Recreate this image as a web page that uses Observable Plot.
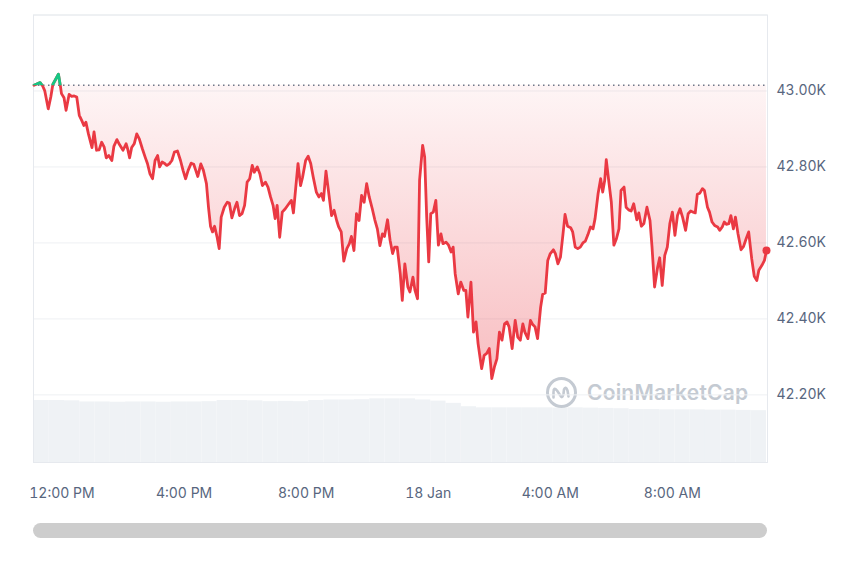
<!DOCTYPE html>
<html><head><meta charset="utf-8">
<script src="https://cdn.jsdelivr.net/npm/d3@7"></script>
<script src="https://cdn.jsdelivr.net/npm/@observablehq/plot@0.6"></script>
<style>
html,body{margin:0;padding:0;background:#fff;}
#wrap{position:relative;width:860px;height:573px;overflow:hidden;font-family:Inter,"Noto Sans",sans-serif;}
#wrap > *{position:absolute;left:0;top:0;}
</style></head><body><div id="wrap"></div>
<script>
// [minutes since 12:00 PM 17 Jan, price USD]
const priceSeries = [
[-55,43015],[-43,43022],[-38,43013],[-34,43001],[-27,42953],[-22,42984],[-18,43017],[-7,43044],[-3,43012],[-1,42993],
[4,42982],[8,42949],[14,42991],[19,42986],[24,42987],[29,42984],[34,42936],[39,42922],[43,42909],[47,42918],
[52,42887],[59,42851],[63,42892],[68,42844],[73,42845],[78,42865],[83,42852],[87,42824],[92,42830],[98,42817],
[102,42854],[108,42872],[113,42859],[120,42844],[126,42861],[129,42848],[133,42824],[137,42851],[142,42861],[147,42887],
[152,42874],[158,42848],[164,42824],[168,42809],[173,42782],[178,42769],[183,42817],[188,42830],
[192,42800],[197,42813],[201,42810],[206,42804],[211,42808],[216,42817],[221,42839],[227,42842],[233,42817],[238,42791],
[243,42769],[248,42791],[254,42810],[259,42807],[263,42791],[267,42775],[273,42808],[278,42791],[284,42756],[288,42694],
[292,42644],[296,42629],[300,42644],[305,42615],[309,42585],[313,42668],[319,42694],[325,42707],[329,42705],[334,42666],
[340,42693],[344,42707],[349,42672],[354,42677],[359,42699],[364,42760],[369,42769],[374,42804],[378,42786],[384,42800],
[389,42782],[394,42751],[400,42760],[405,42747],[410,42721],[415,42699],[419,42664],[423,42699],[428,42615],
[433,42681],[439,42690],[446,42703],[451,42712],[455,42679],[459,42738],[464,42809],[469,42751],[473,42773],[479,42817],
[484,42828],[489,42809],[494,42773],[500,42734],[505,42721],[510,42730],[514,42712],[519,42789],[525,42725],[530,42672],
[535,42686],[540,42659],[544,42642],[549,42629],[554,42552],[560,42585],[565,42598],[569,42617],[574,42580],[579,42677],
[584,42659],[589,42725],[594,42707],[599,42756],[604,42721],[610,42690],[615,42661],[620,42637],[625,42593],[630,42624],
[634,42617],[640,42661],[645,42607],[650,42572],[654,42589],[659,42589],[665,42519],[669,42449],[674,42545],[680,42484],
[684,42471],[690,42510],[694,42475],[699,42453],
[703,42765],[709,42857],[713,42826],[717,42668],[721,42550],[725,42677],[730,42681],[735,42712],[740,42594],[745,42624],
[749,42598],[755,42602],[760,42594],[765,42576],[769,42589],[773,42519],[779,42466],[784,42497],[790,42475],[794,42475],
[798,42405],[804,42497],[809,42365],[814,42392],[818,42335],[825,42269],[830,42304],[835,42309],[840,42322],[845,42243],
[850,42273],[855,42295],[860,42365],[865,42344],[870,42387],[875,42392],[879,42379],[885,42322],[891,42396],[896,42352],
[901,42344],[906,42387],[910,42365],[916,42348],[921,42396],[925,42386],[930,42379],[935,42348],[941,42431],
[945,42465],[950,42468],[955,42554],[960,42572],[966,42582],[970,42572],[975,42545],[980,42563],[985,42624],[989,42675],
[994,42644],[1000,42640],[1004,42629],[1009,42589],[1014,42585],[1019,42589],[1024,42600],[1029,42605],[1034,42622],[1039,42642],
[1044,42637],[1048,42664],[1054,42730],[1059,42769],[1063,42734],[1067,42765],[1070,42819],[1074,42773],[1080,42707],[1085,42594],
[1090,42611],[1095,42637],[1099,42738],[1105,42747],[1109,42694],[1114,42687],[1119,42684],[1124,42703],[1130,42661],[1134,42679],
[1139,42644],[1144,42651],[1150,42694],[1156,42659],
[1160,42589],[1165,42484],[1171,42536],[1175,42561],[1180,42488],[1185,42567],[1190,42589],[1195,42651],[1200,42681],[1205,42620],
[1210,42672],[1215,42690],[1220,42668],[1226,42633],[1231,42677],[1236,42684],[1241,42681],[1245,42679],[1249,42728],[1254,42731],
[1259,42743],[1263,42738],[1269,42694],[1273,42681],[1278,42655],[1283,42646],[1289,42642],[1293,42633],[1298,42642],[1302,42655],
[1306,42649],[1311,42651],[1315,42672],[1320,42637],[1324,42668],[1329,42624],[1335,42582],[1340,42591],[1345,42611],[1350,42629],
[1356,42558],[1361,42512],[1366,42501],[1370,42528],[1376,42541],[1381,42554],[1385,42580]
];
const baselinePrice = 43015;

// 24h volume (billions USD), 30-minute bars
const volumeTimes = [-55,-25,5,35,65,95,125,155,185,215,245,275,305,335,365,395,425,455,485,515,545,575,605,635,665,695,725,755,785,815,845,875,905,935,965,995,1025,1055,1085,1115,1145,1175,1205,1235,1265,1295,1325,1355];
const volumeValues = [22.0,22.0,21.9,21.5,21.5,21.4,21.5,21.5,21.4,21.5,21.5,21.6,22.0,22.0,21.9,21.6,21.7,21.6,22.0,22.2,22.2,22.3,22.6,22.6,22.6,22.2,21.8,21.0,19.8,19.4,19.4,19.4,19.4,19.4,19.3,19.4,19.3,19.2,19.1,18.8,18.8,18.7,18.7,18.7,18.6,18.6,18.5,18.4];
const volumeEnd = 1385;

const yTicks = [42200, 42400, 42600, 42800, 43000];
const gridValues = [42200, 42400, 42600, 42800, 43000, 43200];
const xTicks = [0, 240, 480, 720, 960, 1200];
const xTickLabels = ["12:00 PM", "4:00 PM", "8:00 PM", "18 Jan", "4:00 AM", "8:00 AM"];
const xDomain = [-56, 1387];
const yDomain = [42022, 43200];

const data = priceSeries.map(([m, p]) => ({m, p}));
const vol = volumeTimes.map((t, i) => ({t, t2: i + 1 < volumeTimes.length ? volumeTimes[i + 1] : volumeEnd, v: volumeValues[i]}));

const wrap = document.getElementById("wrap");
const common = {width: 860, height: 573, marginLeft: 33, marginRight: 93, marginBottom: 111};

const volPlot = Plot.plot({
  ...common, marginTop: 377.5,
  style: {background: "transparent"},
  x: {domain: xDomain, axis: null},
  y: {domain: [0, 30], axis: null},
  marks: [Plot.rectY(vol, {x1: "t", x2: "t2", y: "v", fill: "#eff2f5"})]
});
wrap.appendChild(volPlot);

// watermark
const wm = document.createElement("div");
wm.style.cssText = "left:545px;top:376px;display:flex;align-items:center;gap:9px;color:#c4cad2;";
wm.innerHTML = '<svg width="33" height="33" viewBox="-16.5 -16.5 33 33"><circle r="14" fill="none" stroke="#c4cad2" stroke-width="3"/><path d="M-8,5 L-8,0 Q-8,-6 -4.5,-2 L-0.5,4 Q1,6 2,1 L2.5,-3 Q4,-7 6,-2 L7,4" fill="none" stroke="#c4cad2" stroke-width="2.6" stroke-linecap="round" stroke-linejoin="round"/></svg><span style="font:600 21px Inter,sans-serif;letter-spacing:0.2px">CoinMarketCap</span>';
wrap.appendChild(wm);

const main = Plot.plot({
  ...common, marginTop: 14.5,
  style: {background: "transparent", fontFamily: "Inter, sans-serif", fontSize: "14px", color: "#58667e", overflow: "visible"},
  x: {domain: xDomain, ticks: xTicks, tickFormat: d => xTickLabels[xTicks.indexOf(d)], tickSize: 0, tickPadding: 26, label: null},
  y: {domain: yDomain, axis: "right", ticks: yTicks, tickFormat: d => (d / 1000).toFixed(2) + "K", tickSize: 0, tickPadding: 9, label: null},
  marks: [
    Plot.ruleY(gridValues, {stroke: "#eef0f3", strokeWidth: 1}),
    Plot.frame({stroke: "#e6e9ee"}),
    Plot.areaY(data, {x: "m", y1: baselinePrice, y2: "p", fill: "url(#cmcRedFill)"}),
    Plot.ruleY([baselinePrice], {stroke: "#6f7889", strokeWidth: 1.5, strokeDasharray: "1.5,3.5"}),
    Plot.line(data, {x: "m", y: "p", stroke: "#ea3943", strokeWidth: 2.8, strokeLinejoin: "round"}),
    Plot.line(data, {x: "m", y: "p", stroke: "#16c784", strokeWidth: 2.8, strokeLinejoin: "round"}),
    Plot.dot(data.slice(-1), {x: "m", y: "p", r: 4, fill: "#ea3943", stroke: "none"})
  ]
});
wrap.appendChild(main);

// gradient and clip for the part above the opening price
const yb = main.scale("y").apply(baselinePrice);
const svg = d3.select(main);
const defs = svg.insert("defs", ":first-child");
const grad = defs.append("linearGradient").attr("id", "cmcRedFill").attr("x1", 0).attr("y1", 0).attr("x2", 0).attr("y2", 1);
grad.append("stop").attr("offset", "0%").attr("stop-color", "#ea3943").attr("stop-opacity", 0.04);
grad.append("stop").attr("offset", "100%").attr("stop-color", "#ea3943").attr("stop-opacity", 0.33);
defs.append("clipPath").attr("id", "upClip").append("rect").attr("x", 0).attr("y", 0).attr("width", 860).attr("height", yb);
svg.selectAll('g[aria-label="line"]').filter((d, i) => i === 1).attr("clip-path", "url(#upClip)");

// scrollbar
const sb = document.createElement("div");
sb.style.cssText = "left:33px;top:523px;width:734px;height:15px;border-radius:8px;background:#cdcdcd;";
wrap.appendChild(sb);
</script></body></html>
